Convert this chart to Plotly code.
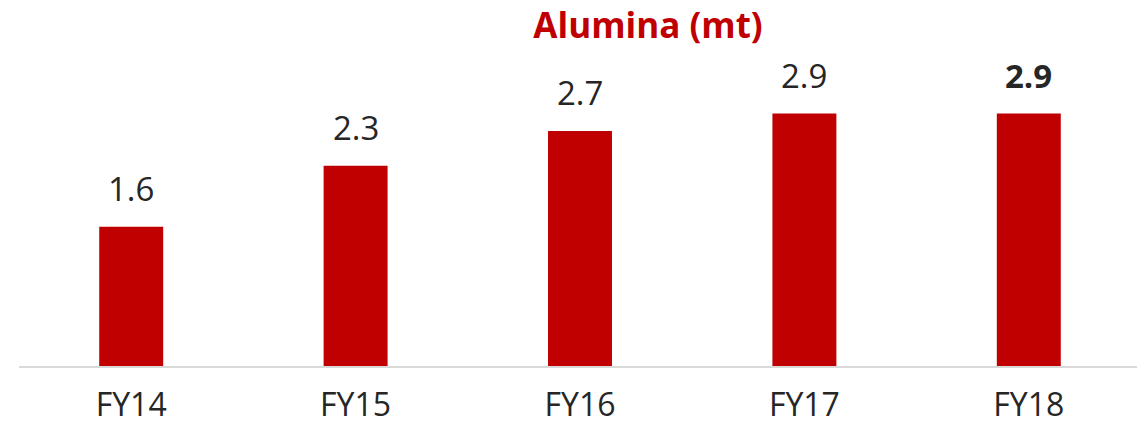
import plotly.graph_objects as go

categories = ["FY14", "FY15", "FY16", "FY17", "FY18"]
values = [1.6, 2.3, 2.7, 2.9, 2.9]
labels = ["1.6", "2.3", "2.7", "2.9", "<b>2.9</b>"]

RED = "#C00000"
TEXT = "#262626"
FONT = "Open Sans"

# the page body has an 8px margin, so the figure is drawn 8px smaller
W, H = 1137, 421

fig = go.Figure()

fig.add_trace(go.Bar(
    x=categories,
    y=values,
    marker=dict(color=RED, line=dict(width=0)),
    hoverinfo="skip",
))

# value labels above the bars
for cat, val, lab in zip(categories, values, labels):
    fig.add_annotation(
        x=cat, y=val, text=lab,
        showarrow=False, yanchor="bottom", yshift=14,
        font=dict(family=FONT, size=33, color=TEXT),
    )

fig.update_layout(
    width=W,
    height=H,
    paper_bgcolor="white",
    plot_bgcolor="white",
    bargap=0.715,
    showlegend=False,
    margin=dict(l=11, r=4, t=52, b=54),
    title=dict(
        text="<b>Alumina (mt)</b>",
        font=dict(family=FONT, size=35, color=RED),
        xref="container", x=640 / W, xanchor="center",
        yref="container", y=1 - 18 / H, yanchor="middle",
    ),
    xaxis=dict(
        showline=True, linecolor="#D9D9D9", linewidth=2,
        showgrid=False, ticks="", zeroline=False,
        ticklabelstandoff=10,
        tickfont=dict(family=FONT, size=32, color=TEXT),
    ),
    yaxis=dict(
        range=[0, 3.515], visible=False, showgrid=False, zeroline=False,
    ),
)

fig.write_html("out.html")
